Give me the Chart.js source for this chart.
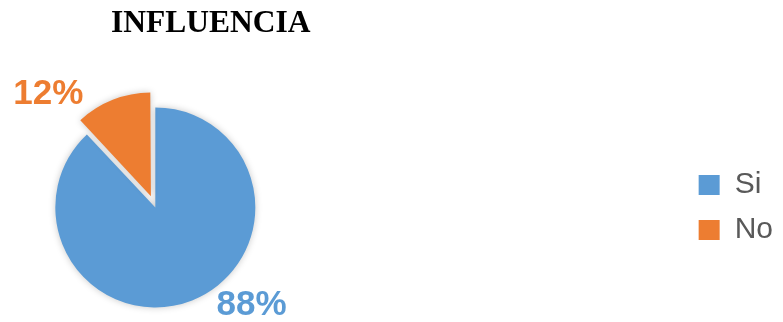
<!DOCTYPE html>
<html>
<head>
<meta charset="utf-8">
<script src="https://cdn.jsdelivr.net/npm/chart.js@4"></script>
<style>
  html, body { margin: 0; padding: 0; background: #fff; }
  #wrap { position: relative; width: 783px; height: 322px; }
</style>
</head>
<body>
<div id="wrap"><canvas id="pieChart"></canvas></div>
<script>
// --- Data ---
const chartTitle = 'INFLUENCIA';
const categories = ['Si', 'No'];
const values = [88, 12];
const sliceColors = ['#5B9BD5', '#ED7D31'];

// percentage labels outside the slices (angle in degrees from pie centre, gap past the rim)
const sliceLabels = {
    id: 'sliceLabels',
    beforeDatasetsDraw(chart) {
        const ctx = chart.ctx;
        ctx.save();
        ctx.shadowColor = 'rgba(0,0,0,0.22)';
        ctx.shadowBlur = 7;
    },
    afterDatasetsDraw(chart, args, opts) {
        const ctx = chart.ctx;
        ctx.restore();
        const meta = chart.getDatasetMeta(0);
        const data = chart.data.datasets[0].data;
        const total = data.reduce((a, b) => a + b, 0);
        meta.data.forEach((arc, i) => {
            const place = opts.placement[i];
            const a = place.angle * Math.PI / 180;
            const r = arc.outerRadius + place.gap;
            const x = arc.x + Math.cos(a) * r;
            const y = arc.y + Math.sin(a) * r;
            ctx.save();
            ctx.font = opts.font;
            ctx.fillStyle = sliceColors[i];
            ctx.textAlign = 'center';
            ctx.textBaseline = 'middle';
            ctx.fillText(Math.round(data[i] / total * 100) + '%', x, y + 1.5);
            ctx.restore();
        });
    }
};

const ctx = document.getElementById('pieChart').getContext('2d');
const pieChart = new Chart(ctx, {
    type: 'pie',
    data: {
        labels: categories,
        datasets: [{
            data: values,
            backgroundColor: sliceColors,
            borderWidth: 0,
            hoverOffset: 0,
            offset: [0, 48],
            radius: 100
        }]
    },
    options: {
        responsive: true,
        maintainAspectRatio: false,
        animation: false,
        events: [],
        layout: { padding: { left: 111, right: 0, top: 0, bottom: 0 } },
        plugins: {
            title: {
                display: true,
                text: chartTitle,
                align: 'start',
                color: '#000',
                font: { family: '"Liberation Serif", "Times New Roman", serif', size: 31.5, weight: 'bold', lineHeight: 1.2 },
                padding: { top: 5, bottom: 50 }
            },
            // empty spacer between the pie and the legend
            subtitle: {
                display: true,
                text: '',
                position: 'right',
                fullSize: false,
                weight: 500,
                font: { size: 10, lineHeight: 1 },
                padding: { top: 0, bottom: 474 }
            },
            legend: {
                position: 'right',
                fullSize: false,
                labels: {
                    boxWidth: 21,
                    boxHeight: 20,
                    padding: 15,
                    color: '#595959',
                    font: { family: '"Liberation Sans", Arial, sans-serif', size: 30 }
                }
            },
            tooltip: { enabled: false },
            sliceLabels: {
                font: 'bold 35px "Liberation Sans", Arial, sans-serif',
                placement: [ { angle: 45, gap: 36 }, { angle: -133, gap: 57 } ]
            }
        }
    },
    plugins: [sliceLabels]
});
</script>
</body>
</html>
